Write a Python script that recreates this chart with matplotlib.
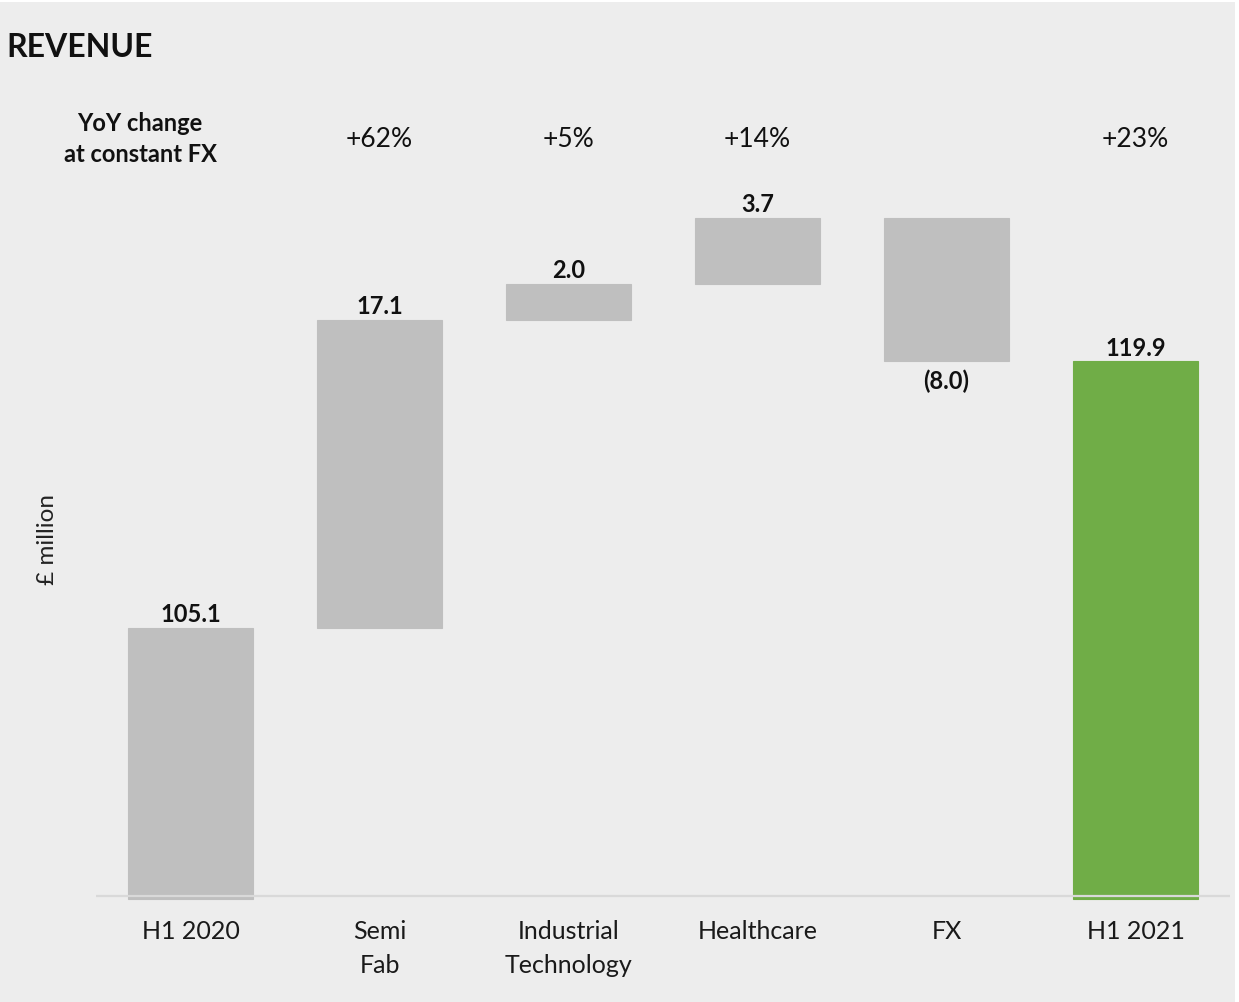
import numpy as np
import matplotlib.pyplot as plt
import matplotlib.transforms as mtransforms
from matplotlib.patches import Rectangle

# revenue bridge, £ million
categories = ['H1 2020', 'Semi\nFab', 'Industrial\nTechnology', 'Healthcare', 'FX', 'H1 2021']
start_value = 105.1
changes = [17.1, 2.0, 3.7, -8.0]
end_value = 119.9
yoy_labels = ['', '+62%', '+5%', '+14%', '', '+23%']

BG = '#EDEDED'
GREY = '#BFBFBF'
GREEN = '#70AD47'
AXIS_BASE = 90.0

plt.rcParams['font.family'] = ['Lato', 'DejaVu Sans']

fig = plt.figure(figsize=(12.39, 10.03), dpi=100, facecolor='white')
fig.patches.append(Rectangle((0, 0), 0.997, 0.997, transform=fig.transFigure,
                             facecolor=BG, edgecolor='none', zorder=-10))
ax = fig.add_axes([0.0775, 0.0937, 0.9152, 0.7797])
ax.set_facecolor(BG)

# floating segments for the bridge
cum = np.cumsum([start_value] + changes)
bottoms = [AXIS_BASE]
heights = [start_value - AXIS_BASE]
for i, c in enumerate(changes):
    lo = min(cum[i], cum[i + 1])
    bottoms.append(lo)
    heights.append(abs(c))
bottoms.append(AXIS_BASE)
heights.append(end_value - AXIS_BASE)
colors = [GREY] * 5 + [GREEN]

x = np.arange(len(categories))
ax.bar(x, heights, bottom=bottoms, width=0.66, color=colors,
       edgecolor=colors, linewidth=0.8, zorder=2)
ax.axhline(AXIS_BASE + 0.17, color='#D9D9D9', lw=1.6, zorder=3)

# value labels
label_vals = [start_value] + changes + [end_value]
for i, v in enumerate(label_vals):
    if v >= 0:
        txt = f'{v:.1f}'
        ax.annotate(txt, (x[i], bottoms[i] + heights[i]), xytext=(0, 5),
                    textcoords='offset points', ha='center', va='baseline',
                    fontsize=17, fontweight='bold', color='#111111')
    else:
        txt = f'({abs(v):.1f})'
        ax.annotate(txt, (x[i], bottoms[i]), xytext=(0, -5),
                    textcoords='offset points', ha='center', va='top',
                    fontsize=17, fontweight='bold', color='#111111')

# YoY change row
trans = mtransforms.blended_transform_factory(ax.transData, fig.transFigure)
for i, lab in enumerate(yoy_labels):
    if lab:
        ax.text(x[i], 0.8614, lab, transform=trans, ha='center', va='center',
                fontsize=19, color='#111111')
fig.text(0.113, 0.8614, 'YoY change\nat constant FX', ha='center', va='center',
         fontsize=17, fontweight='bold', linespacing=1.45, color='#111111')

fig.text(0.005, 0.953, 'REVENUE', ha='left', va='center', fontsize=23,
         fontweight='bold', color='#111111')
fig.text(0.038, 0.462, '£ million', rotation=90, ha='center', va='center',
         fontsize=17.5, color='#222222')

ax.set_xlim(-0.5, 5.5)
ax.set_ylim(89.5, 133)
ax.set_xticks(x)
ax.set_xticklabels(categories, fontsize=18, color='#1a1a1a', linespacing=1.55)
ax.tick_params(axis='x', length=0, pad=8)
ax.set_yticks([])
for s in ax.spines.values():
    s.set_visible(False)

fig.savefig('out.png', dpi=100, facecolor=fig.get_facecolor())
